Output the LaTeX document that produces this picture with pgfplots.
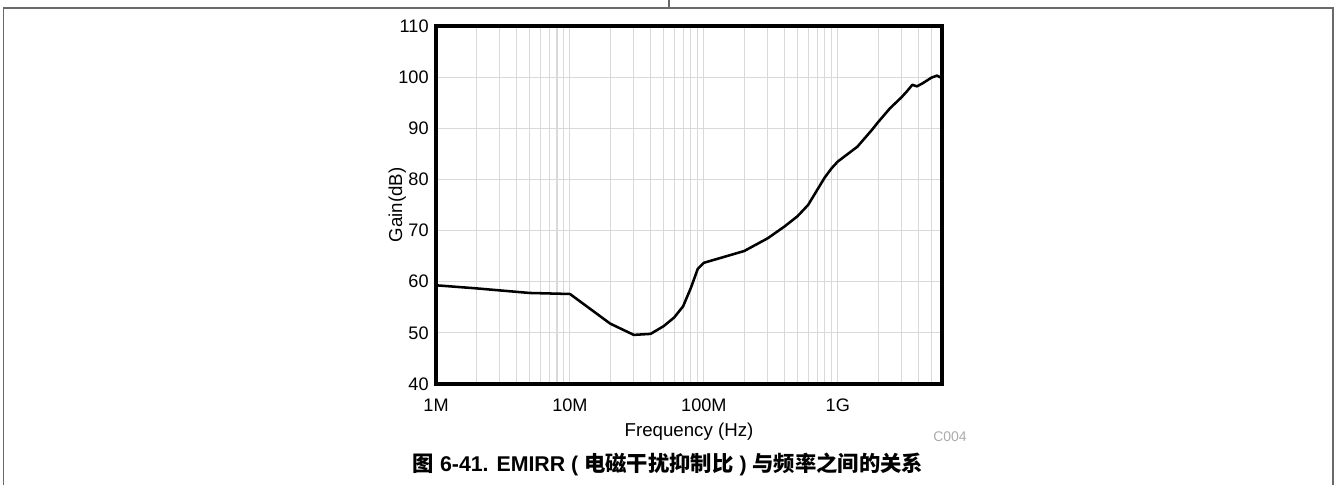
\documentclass[border=0pt]{standalone}
\usepackage{fontspec}
\setmainfont{Liberation Sans}
\newfontfamily\cjk{Noto Sans CJK SC}
\usepackage{pgfplots}
\pgfplotsset{compat=1.18}
\definecolor{framec}{RGB}{105,105,105}
\definecolor{gridc}{RGB}{217,217,217}
\definecolor{codec}{RGB}{170,170,170}
\begin{document}
\begin{tikzpicture}[x=0.75pt,y=0.75pt]
\path[use as bounding box] (0,0) rectangle (1335,485);
\draw[framec, line width=1.3pt] (3.5,0) -- (3.5,477) -- (1333,477) -- (1333,0);
\draw[framec, line width=1.3pt] (669,477) -- (669,485);
\begin{axis}[
  at={(327pt,75.75pt)}, anchor=south west,
  scale only axis, width=379.5pt, height=268.5pt,
  xmode=log, log basis x=10,
  xmin=1e6, xmax=6e9, ymin=40, ymax=110,
  xtick={1e6,1e7,1e8,1e9}, xticklabels={1M,10M,100M,1G},
  minor xtick={2e6,3e6,4e6,5e6,6e6,7e6,8e6,9e6,
               2e7,3e7,4e7,5e7,6e7,7e7,8e7,9e7,
               2e8,3e8,4e8,5e8,6e8,7e8,8e8,9e8,
               2e9,3e9,4e9,5e9},
  ytick={40,50,60,70,80,90,100,110},
  grid=both,
  major grid style={gridc, line width=0.8pt},
  minor grid style={gridc, line width=0.8pt},
  axis line style={line width=2.4pt, black},
  tick style={draw=none},
  major tick length=0pt, minor tick length=0pt,
  /pgf/number format/assume math mode=true,
  ticklabel style={font=\fontsize{13.6}{15}\selectfont},
  xticklabel style={yshift=-7.5pt},
  yticklabel style={xshift=-2pt},
  label style={font=\fontsize{14}{16}\selectfont},
  xlabel={Frequency (Hz)}, ylabel={Gain(dB)},
  xlabel style={yshift=-1.5pt},
  ylabel style={yshift=-12.5pt},
  clip=true,
]
\addplot[black, line width=1.9pt, line join=round] coordinates {
(1e6,59.3) (2e6,58.7) (3e6,58.3) (5e6,57.8) (1e7,57.6)
(2e7,51.8) (3e7,49.6) (4e7,49.8) (5e7,51.3) (6e7,53.0) (7e7,55.2)
(8e7,58.8) (9e7,62.5) (1e8,63.7) (2e8,66.0) (3e8,68.5) (4e8,70.8)
(5e8,72.8) (6e8,75.0) (7e8,77.9) (8e8,80.4) (9e8,82.2) (1e9,83.5)
(1.4e9,86.4) (1.8e9,89.7) (2e9,91.2) (2.45e9,93.9) (3e9,96.1)
(3.3e9,97.3) (3.6e9,98.5) (3.9e9,98.2) (4.3e9,98.8) (5e9,99.9)
(5.5e9,100.3) (6e9,99.8)
};
\end{axis}
\node[anchor=east, text=codec, font=\fontsize{10.5}{12}\selectfont, inner sep=0pt] at (967,48) {C004};
\node[font=\bfseries\fontsize{16}{19}\selectfont, inner sep=0pt] at (668,21) {{\cjk\bfseries 图} 6-41. EMIRR ( {\cjk\bfseries 电磁干扰抑制比} ) {\cjk\bfseries 与频率之间的关系}};
\end{tikzpicture}
\end{document}
